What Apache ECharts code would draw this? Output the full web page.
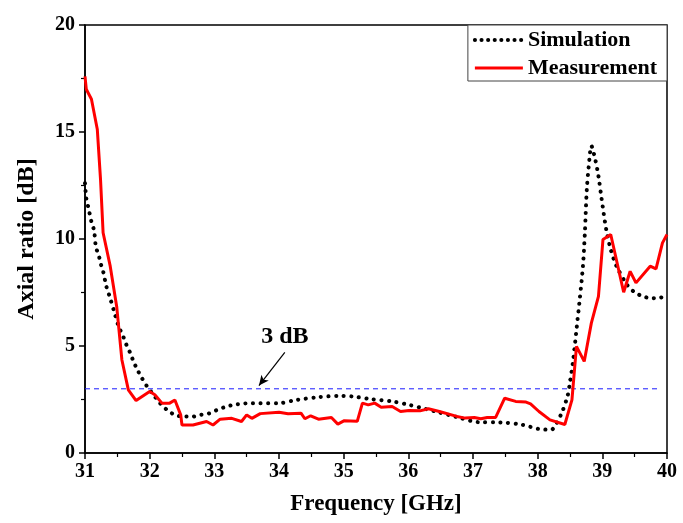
<!DOCTYPE html>
<html>
<head>
<meta charset="utf-8">
<script src="https://cdn.jsdelivr.net/npm/echarts@6/dist/echarts.min.js"></script>
<style>
  html, body { margin: 0; padding: 0; background: #fff; }
  #chart { width: 683px; height: 523px; }
</style>
</head>
<body>
<div id="chart"></div>
<script>
// Simulated axial ratio [GHz, dB]
const simulation = [
  [31.0, 12.6], [31.02, 11.9], [31.05, 11.5], [31.1, 10.8], [31.14, 10.4], [31.17, 9.6],
  [31.21, 9.27], [31.24, 8.88], [31.28, 8.49], [31.33, 7.79], [31.38, 7.32], [31.45, 6.62],
  [31.52, 5.92], [31.59, 5.45], [31.64, 5.06], [31.70, 4.67], [31.75, 4.28], [31.81, 3.89],
  [31.88, 3.50], [31.96, 3.11], [32.06, 2.72], [32.16, 2.33], [32.27, 2.01], [32.39, 1.78],
  [32.53, 1.70], [32.66, 1.70], [32.78, 1.78], [32.91, 1.84], [33.04, 2.01], [33.16, 2.14],
  [33.29, 2.25], [33.42, 2.30], [33.55, 2.33], [33.70, 2.33], [34.0, 2.33], [34.27, 2.48],
  [34.61, 2.61], [34.94, 2.67], [35.14, 2.64], [35.41, 2.52], [35.75, 2.41], [36.01, 2.25],
  [36.21, 2.10], [36.42, 1.94], [36.75, 1.68], [37.09, 1.44], [37.42, 1.43], [37.76, 1.32],
  [38.02, 1.12], [38.19, 1.09], [38.23, 1.11], [38.37, 1.86], [38.46, 2.64], [38.49, 3.11],
  [38.55, 4.36], [38.60, 5.76], [38.65, 7.17], [38.70, 8.73], [38.73, 10.29], [38.76, 12.32],
  [38.80, 13.72], [38.83, 14.35], [38.89, 13.72], [38.94, 12.94], [38.99, 11.85], [39.06, 10.45],
  [39.13, 9.51], [39.22, 8.73], [39.38, 7.87], [39.50, 7.51], [39.63, 7.32], [39.76, 7.23],
  [39.89, 7.26], [40.0, 7.32]
];

// Measured axial ratio [GHz, dB]
const measurement = [
  [31.0, 17.6], [31.02, 17.0], [31.10, 16.53], [31.19, 15.13], [31.24, 12.79], [31.28, 10.29],
  [31.39, 8.73], [31.49, 6.85], [31.57, 4.36], [31.67, 2.95], [31.79, 2.45], [32.0, 2.87],
  [32.08, 2.72], [32.19, 2.33], [32.31, 2.33], [32.39, 2.48], [32.48, 1.78], [32.50, 1.31],
  [32.67, 1.31], [32.88, 1.47], [32.98, 1.31], [33.09, 1.58], [33.27, 1.62], [33.42, 1.47],
  [33.50, 1.78], [33.58, 1.62], [33.71, 1.84], [34.0, 1.90], [34.14, 1.83], [34.34, 1.86],
  [34.40, 1.60], [34.49, 1.74], [34.61, 1.58], [34.81, 1.66], [34.91, 1.35], [35.01, 1.51],
  [35.21, 1.48], [35.29, 2.33], [35.38, 2.25], [35.48, 2.33], [35.58, 2.14], [35.75, 2.17],
  [35.88, 1.94], [36.01, 1.99], [36.18, 1.97], [36.31, 2.07], [36.48, 1.94], [36.75, 1.71],
  [36.88, 1.63], [37.02, 1.66], [37.12, 1.60], [37.22, 1.66], [37.35, 1.66], [37.49, 2.56],
  [37.66, 2.41], [37.82, 2.38], [37.89, 2.30], [38.02, 1.94], [38.19, 1.55], [38.42, 1.33],
  [38.53, 2.48], [38.60, 4.98], [38.72, 4.28], [38.83, 6.07], [38.94, 7.32], [39.01, 9.98],
  [39.13, 10.21], [39.33, 7.51], [39.43, 8.49], [39.52, 7.95], [39.74, 8.73], [39.83, 8.60],
  [39.93, 9.82], [40.0, 10.21]
];

// 3 dB reference level
const threshold = [[31.0, 3], [39.86, 3]];
const thresholdLabel = '3 dB';
const labelAnchor = [34.09, 5.45];
const arrowFrom = [34.09, 4.7];
const arrowTo = [33.69, 3.15];

const xTicks = { min: 31, max: 40, interval: 1 };
const yTicks = { min: 0, max: 20, interval: 5 };

const FONT = '"Liberation Serif", "Times New Roman", serif';
const chart = echarts.init(document.getElementById('chart'), null, { renderer: 'canvas' });

chart.setOption({
  animation: false,
  backgroundColor: '#fff',
  grid: {
    left: 85, right: 16, top: 25, bottom: 70,
    show: true, borderColor: '#000', borderWidth: 1.5, backgroundColor: 'transparent'
  },
  legend: {
    orient: 'vertical',
    right: 16, top: 25,
    backgroundColor: '#fff',
    borderColor: '#444', borderWidth: 1,
    padding: [4, 10, 2, 5],
    itemGap: 6,
    itemWidth: 48, itemHeight: 14,
    itemStyle: { opacity: 0 },
    textStyle: { fontFamily: FONT, fontWeight: 'bold', fontSize: 22, color: '#000', lineHeight: 22 },
    data: [
      { name: 'Simulation', lineStyle: { color: '#000', width: 4, type: [0.1, 6.5], cap: 'round' } },
      { name: 'Measurement', lineStyle: { color: '#ff0000', width: 3 } }
    ]
  },
  xAxis: {
    type: 'value',
    min: xTicks.min, max: xTicks.max, interval: xTicks.interval,
    name: 'Frequency [GHz]', nameLocation: 'middle', nameGap: 40,
    nameTextStyle: { fontFamily: FONT, fontWeight: 'bold', fontSize: 23, color: '#000' },
    axisLine: { lineStyle: { color: '#000', width: 1.5 } },
    axisTick: { inside: false, length: 6, lineStyle: { color: '#000', width: 1.5 } },
    minorTick: { show: true, splitNumber: 2, length: 4, lineStyle: { color: '#000', width: 1.2 } },
    axisLabel: { fontFamily: FONT, fontWeight: 'bold', fontSize: 20, color: '#000', margin: 9 },
    splitLine: { show: false }
  },
  yAxis: {
    type: 'value',
    min: yTicks.min, max: yTicks.max, interval: yTicks.interval,
    name: 'Axial ratio [dB]', nameLocation: 'middle', nameGap: 46,
    nameTextStyle: { fontFamily: FONT, fontWeight: 'bold', fontSize: 24, color: '#000' },
    axisLine: { lineStyle: { color: '#000', width: 1.5 } },
    axisTick: { inside: false, length: 6, lineStyle: { color: '#000', width: 1.5 } },
    minorTick: { show: true, splitNumber: 2, length: 4, lineStyle: { color: '#000', width: 1.2 } },
    axisLabel: { fontFamily: FONT, fontWeight: 'bold', fontSize: 20, color: '#000', margin: 10 },
    splitLine: { show: false }
  },
  series: [
    {
      name: '3 dB',
      type: 'line',
      data: threshold,
      symbol: 'none',
      silent: true,
      lineStyle: { color: '#1a1aff', width: 1, type: [5, 4] },
      markPoint: {
        symbol: 'circle', symbolSize: 0,
        label: {
          show: true, position: 'inside', formatter: thresholdLabel,
          fontFamily: FONT, fontWeight: 'bold', fontSize: 24, color: '#000'
        },
        data: [{ coord: labelAnchor }]
      },
      markLine: {
        silent: true,
        symbol: ['none', 'arrow'], symbolSize: [7, 10],
        label: { show: false },
        lineStyle: { color: '#000', width: 1.2, type: 'solid' },
        data: [[{ coord: arrowFrom }, { coord: arrowTo }]]
      }
    },
    {
      name: 'Simulation',
      type: 'line',
      data: simulation,
      symbol: 'none',
      smooth: 0.3,
      itemStyle: { color: '#000' },
      lineStyle: { color: '#000', width: 4, type: [0.1, 7.5], cap: 'round' }
    },
    {
      name: 'Measurement',
      type: 'line',
      data: measurement,
      symbol: 'none',
      itemStyle: { color: '#ff0000' },
      lineStyle: { color: '#ff0000', width: 3 }
    }
  ]
});
</script>
</body>
</html>
